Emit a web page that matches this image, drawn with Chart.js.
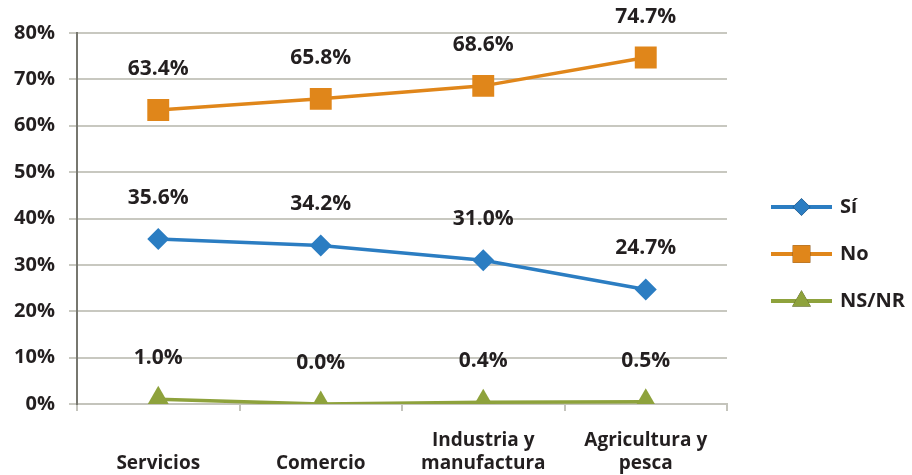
<!DOCTYPE html>
<html lang="es">
<head>
<meta charset="UTF-8">
<title>Sí / No / NS-NR por sector</title>
<style>
  * { margin: 0; padding: 0; box-sizing: border-box; }
  body { background: #fff; width: 912px; height: 475px; overflow: hidden; }
  .wrap { position: relative; width: 912px; height: 475px; }
</style>
</head>
<body>
<div class="wrap"><canvas id="chart"></canvas></div>
<script src="https://cdn.jsdelivr.net/npm/chart.js@4/dist/chart.umd.min.js"></script>
<script>
// categories (multi-line labels as arrays)
const categories = [['Servicios'], ['Comercio'], ['Industria y', 'manufactura'], ['Agricultura y', 'pesca']];

// series values (%)
const siValues   = [35.6, 34.2, 31.0, 24.7];
const noValues   = [63.4, 65.8, 68.6, 74.7];
const nsnrValues = [1.0, 0.0, 0.4, 0.5];

const seriesNames = ['Sí', 'No', 'NS/NR'];
const yTicks = [0, 10, 20, 30, 40, 50, 60, 70, 80];

const FONT = '"Open Sans", "Noto Sans", sans-serif';
const TEXT = '#231f20';

const BLUE   = '#2b7dc2';
const ORANGE = '#e0861a';
const GREEN  = '#8ea23c';

// value labels above every point
const valueLabels = {
  id: 'valueLabels',
  afterDatasetsDraw(chart) {
    const ctx = chart.ctx;
    ctx.save();
    ctx.font = 'bold 21px ' + FONT;
    ctx.fillStyle = TEXT;
    ctx.textAlign = 'center';
    ctx.textBaseline = 'middle';
    chart.data.datasets.forEach((ds, i) => {
      chart.getDatasetMeta(i).data.forEach((pt, j) => {
        ctx.fillText(ds.data[j].toFixed(1) + '%', pt.x, pt.y - 41);
      });
    });
    ctx.restore();
  }
};

// legend with line + marker, on the right
const lineLegend = {
  id: 'lineLegend',
  afterDraw(chart) {
    const ctx = chart.ctx;
    const x0 = 771, x1 = 832, tx = 840;
    const ys = [207, 254, 301];
    ctx.save();
    chart.data.datasets.forEach((ds, i) => {
      const y = ys[i];
      ctx.strokeStyle = ds.borderColor;
      ctx.lineWidth = 4;
      ctx.beginPath();
      ctx.moveTo(x0, y);
      ctx.lineTo(x1, y);
      ctx.stroke();
      ctx.beginPath();
      Chart.helpers.drawPoint(ctx, {
        pointStyle: ds.pointStyle,
        radius: ds.pointRadius * 0.8,
        rotation: 0,
        borderWidth: 0
      }, (x0 + x1) / 2, y);
      ctx.fillStyle = ds.pointBackgroundColor;
      ctx.fill();
      ctx.font = 'bold 20px ' + FONT;
      ctx.fillStyle = TEXT;
      ctx.textAlign = 'left';
      ctx.textBaseline = 'middle';
      ctx.fillText(ds.label, tx, y);
    });
    ctx.restore();
  }
};

function series(label, data, color, style, radius) {
  return {
    label: label,
    data: data,
    borderColor: color,
    backgroundColor: color,
    pointBackgroundColor: color,
    pointBorderColor: color,
    pointBorderWidth: 0,
    borderWidth: 3.5,
    pointStyle: style,
    pointRadius: radius,
    pointHoverRadius: radius,
    tension: 0
  };
}

new Chart(document.getElementById('chart'), {
  type: 'line',
  data: {
    labels: categories,
    datasets: [
      series(seriesNames[0], siValues, BLUE, 'rectRot', 11),
      series(seriesNames[1], noValues, ORANGE, 'rect', 15.5),
      series(seriesNames[2], nsnrValues, GREEN, 'triangle', 13.5)
    ]
  },
  options: {
    responsive: true,
    maintainAspectRatio: false,
    animation: false,
    layout: { padding: { top: 33, right: 185, left: 0, bottom: 0 } },
    plugins: {
      legend: { display: false },
      tooltip: { enabled: false }
    },
    scales: {
      x: {
        offset: true,
        afterFit: axis => { axis.height = 71; },
        grid: {
          offset: true,
          drawOnChartArea: false,
          drawTicks: true,
          tickLength: 7,
          color: '#c4c4bc',
          lineWidth: 2
        },
        border: { display: true, color: '#c4c4bc', width: 2 },
        ticks: {
          color: TEXT,
          font: { family: FONT, size: 19, weight: 'bold', lineHeight: 1.2 },
          padding: 18,
          maxRotation: 0,
          autoSkip: false,
          // bottom-align single-line labels with the two-line ones
          callback: function (v, i) {
            const lab = categories[i];
            return lab.length === 1 ? ['', lab[0]] : lab;
          }
        }
      },
      y: {
        min: 0,
        max: 80,
        afterBuildTicks: axis => { axis.ticks = yTicks.map(v => ({ value: v })); },
        afterFit: axis => { axis.width = 77; },
        grid: {
          color: '#c8c8c0',
          lineWidth: 2,
          tickLength: 8
        },
        border: { display: true, color: '#77776f', width: 2 },
        ticks: {
          color: TEXT,
          font: { family: FONT, size: 20, weight: 'bold' },
          padding: 14,
          callback: v => v + '%'
        }
      }
    }
  },
  plugins: [valueLabels, lineLegend]
});
</script>
</body>
</html>
